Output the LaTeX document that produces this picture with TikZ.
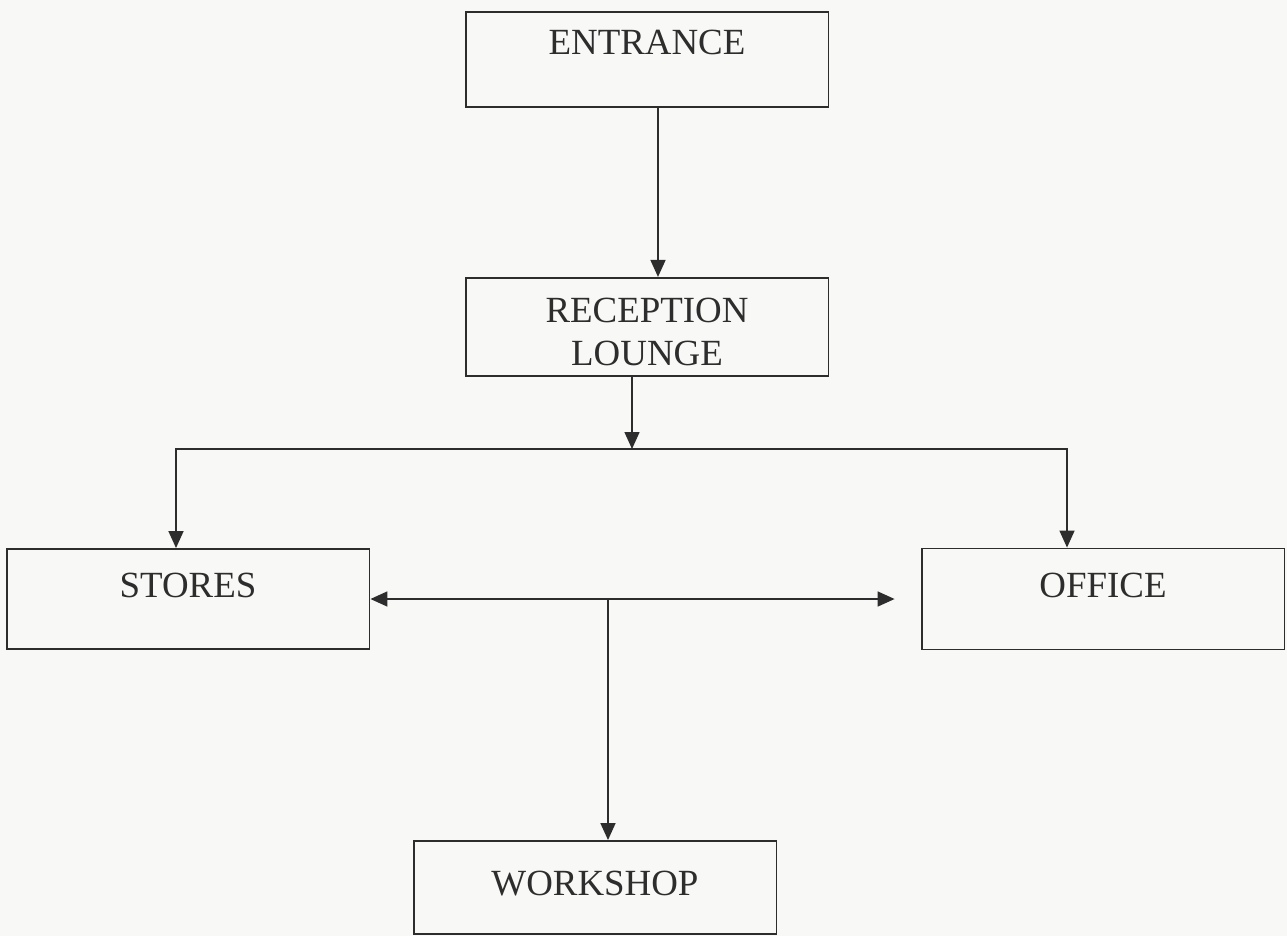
\documentclass[tikz,border=0pt]{standalone}
\usepackage{fontspec}
\setmainfont{Liberation Serif}
\usepackage{tikz}
\usetikzlibrary{arrows.meta, positioning}
\definecolor{inkgray}{RGB}{45,45,45}
\definecolor{paper}{RGB}{248,248,246}

\begin{document}
\begin{tikzpicture}[
    x=0.02cm, y=-0.02cm,
    room/.style={rectangle, draw=inkgray, line width=1.1pt, minimum width=7.26cm, inner sep=0pt, align=center, text height=0.92cm, text depth=1.04cm, font=\fontsize{21}{24.5}\selectfont, text=inkgray},
    arrow/.style={-{Triangle[length=0.34cm, width=0.3cm]}, line width=0.9pt, color=inkgray}
]
\fill[paper] (0,0) rectangle (1287,936);
\useasboundingbox (0,0) rectangle (1287,936);

\node[room, text height=0.86cm] (entrance) at (647,59.5) {ENTRANCE};
\node[room, below=3.38cm of entrance, text height=1.76cm, text depth=0.2cm] (reception) {RECEPTION\\LOUNGE};
\node[room, text height=0.96cm] (stores) at (188,599) {STORES};
\node[room, text height=0.98cm] (office) at (1103,599) {OFFICE};
\node[room, text height=1.08cm, text depth=0.78cm] (workshop) at (595,887.5) {WORKSHOP};

\coordinate (hub) at (632,449);
\coordinate (split) at (608,599);

\draw[arrow] ([xshift=0.22cm]entrance.south) -- ([xshift=0.22cm]reception.north);
\draw[arrow] ([xshift=-0.3cm]reception.south) -- (hub);
\draw[arrow] (hub) -| ([xshift=-0.24cm]stores.north);
\draw[arrow] (hub) -| ([xshift=-0.72cm]office.north);
\draw[arrow] (split) -- (stores.east);
\draw[arrow] (split) -- ([xshift=-0.52cm]office.west);
\draw[arrow] (split) -- ([xshift=0.26cm]workshop.north);
\end{tikzpicture}
\end{document}
